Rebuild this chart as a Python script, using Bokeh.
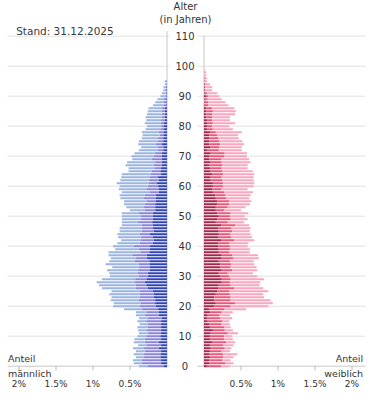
from bokeh.plotting import figure
from bokeh.models import ColumnDataSource, Range1d, Label
from bokeh.core.properties import value
from bokeh.embed import file_html
from bokeh.resources import INLINE

# ---------------- data (share of total population, %) ----------------
ages = list(range(100))

male_dark = [0.04,0.08,0.08,0.09,0.09,0.08,0.11,0.08,0.11,0.08,
             0.09,0.08,0.08,0.08,0.08,0.08,0.07,0.11,0.11,0.12,
             0.15,0.16,0.16,0.18,0.18,0.19,0.26,0.28,0.30,0.27,
             0.26,0.26,0.23,0.23,0.23,0.24,0.27,0.27,0.24,0.23,
             0.23,0.19,0.18,0.19,0.23,0.18,0.19,0.19,0.20,0.19,
             0.19,0.19,0.16,0.16,0.16,0.15,0.15,0.15,0.11,0.11,
             0.12,0.14,0.11,0.12,0.08,0.09,0.08,0.07,0.07,0.07,
             0.07,0.07,0.05,0.05,0.07,0.05,0.05,0.05,0.04,0.04,
             0.04,0.04,0.03,0.03,0.03,0.03,0.03,0.01,0.01,0.01,
             0.01,0.01,0.01,0.01,0,0,0,0,0,0]
male_mid = [0.22,0.26,0.26,0.22,0.22,0.22,0.20,0.20,0.19,0.22,
            0.19,0.18,0.19,0.18,0.18,0.20,0.19,0.19,0.16,0.22,
            0.22,0.20,0.22,0.19,0.19,0.18,0.16,0.14,0.14,0.16,
            0.12,0.14,0.16,0.15,0.15,0.20,0.15,0.20,0.12,0.15,
            0.22,0.18,0.18,0.16,0.14,0.16,0.15,0.15,0.19,0.16,
            0.16,0.19,0.14,0.15,0.14,0.12,0.16,0.15,0.12,0.16,
            0.14,0.11,0.14,0.11,0.14,0.12,0.09,0.11,0.09,0.14,
            0.11,0.09,0.07,0.07,0.08,0.07,0.07,0.05,0.07,0.05,
            0.04,0.04,0.05,0.04,0.04,0.04,0.04,0.03,0.04,0.03,
            0.01,0.01,0.01,0.01,0.01,0.01,0,0,0,0]
male_light = [0.12,0.11,0.12,0.11,0.14,0.12,0.15,0.11,0.15,0.14,
              0.12,0.12,0.12,0.14,0.11,0.12,0.12,0.12,0.15,0.24,
              0.36,0.36,0.38,0.38,0.41,0.38,0.46,0.50,0.51,0.45,
              0.39,0.38,0.42,0.36,0.45,0.34,0.34,0.32,0.43,0.32,
              0.28,0.30,0.26,0.31,0.30,0.30,0.30,0.27,0.22,0.26,
              0.26,0.23,0.20,0.24,0.28,0.31,0.32,0.34,0.38,0.38,
              0.38,0.43,0.38,0.39,0.39,0.31,0.35,0.38,0.38,0.26,
              0.30,0.28,0.26,0.23,0.24,0.26,0.22,0.23,0.23,0.20,
              0.19,0.22,0.20,0.22,0.20,0.19,0.18,0.15,0.11,0.09,
              0.07,0.05,0.03,0.03,0.02,0.02,0,0,0,0]

female_dark = [0.04,0.07,0.07,0.08,0.07,0.08,0.09,0.08,0.11,0.08,
               0.08,0.09,0.12,0.08,0.07,0.05,0.04,0.05,0.08,0.07,
               0.14,0.16,0.14,0.14,0.16,0.18,0.19,0.20,0.24,0.24,
               0.22,0.20,0.24,0.22,0.22,0.20,0.24,0.24,0.20,0.20,
               0.19,0.19,0.23,0.19,0.20,0.20,0.19,0.23,0.16,0.18,
               0.20,0.18,0.16,0.16,0.18,0.18,0.16,0.15,0.12,0.11,
               0.12,0.12,0.09,0.09,0.11,0.09,0.08,0.07,0.09,0.07,
               0.07,0.09,0.04,0.09,0.07,0.07,0.07,0.07,0.08,0.04,
               0.04,0.04,0.04,0.03,0.03,0.03,0.03,0.01,0.01,0.01,
               0.03,0.01,0.01,0.01,0.01,0,0,0,0,0]
female_mid = [0.19,0.22,0.18,0.18,0.19,0.15,0.19,0.18,0.19,0.19,
              0.19,0.23,0.16,0.19,0.16,0.20,0.18,0.16,0.16,0.20,
              0.22,0.26,0.22,0.22,0.19,0.16,0.22,0.16,0.11,0.12,
              0.12,0.12,0.14,0.14,0.15,0.15,0.16,0.14,0.14,0.15,
              0.16,0.15,0.18,0.18,0.16,0.18,0.18,0.19,0.16,0.18,
              0.15,0.18,0.11,0.16,0.16,0.16,0.14,0.14,0.15,0.12,
              0.14,0.14,0.16,0.15,0.15,0.16,0.16,0.18,0.15,0.16,
              0.20,0.19,0.16,0.12,0.15,0.14,0.12,0.11,0.08,0.08,
              0.07,0.08,0.07,0.08,0.08,0.09,0.08,0.05,0.05,0.04,
              0.03,0.03,0.01,0.01,0.01,0.01,0.01,0,0,0]
female_light = [0.12,0.11,0.11,0.14,0.19,0.12,0.09,0.14,0.12,0.12,
                0.11,0.14,0.11,0.09,0.12,0.09,0.16,0.14,0.15,0.30,
                0.51,0.51,0.54,0.45,0.45,0.53,0.39,0.39,0.41,0.45,
                0.38,0.34,0.34,0.35,0.31,0.32,0.34,0.35,0.28,0.27,
                0.24,0.26,0.27,0.28,0.27,0.24,0.26,0.19,0.22,0.23,
                0.20,0.24,0.23,0.24,0.28,0.30,0.31,0.34,0.39,0.36,
                0.41,0.42,0.42,0.43,0.42,0.41,0.35,0.34,0.39,0.38,
                0.31,0.30,0.31,0.30,0.32,0.31,0.28,0.28,0.35,0.27,
                0.23,0.30,0.24,0.24,0.31,0.31,0.30,0.27,0.23,0.19,
                0.15,0.14,0.09,0.09,0.06,0.03,0.03,0.03,0.03,0.01]

share_ticks = [0.5, 1.0, 1.5, 2.0]
share_labels = ["0.5%", "1%", "1.5%", "2%"]
age_ticks = list(range(0, 111, 10))

# ---------------- layout / style ----------------
GAP = 0.25          # half-width of the central age-label column (in % units)
FONT = "DejaVu Sans"
TXT = "#333333"
GRID = "#e3e3e3"
AXIS = "#c8c8c8"
M_COLS = ["#3144b6", "#8a84d8", "#9cb5e0"]
F_COLS = ["#a3284e", "#e8587c", "#f8a7be"]

p = figure(width=375, height=416, output_backend="svg", toolbar_location=None,
           x_range=Range1d(-2.5, 2.5676), y_range=Range1d(-16.77, 121.9),
           min_border_left=0, min_border_right=0, min_border_top=0,
           min_border_bottom=0, x_axis_location=None, y_axis_location=None)
p.outline_line_color = None
p.xgrid.visible = False
p.ygrid.visible = False
p.background_fill_color = "white"
p.border_fill_color = "white"

# gridlines (split around central label column)
xl0, xr1 = -2.405, 2.432
n = len(age_ticks)
cols = [AXIS if a == 0 else GRID for a in age_ticks]
p.segment(x0="x0", y0="y", x1="x1", y1="y", line_color="c", line_width=1,
          source=ColumnDataSource(dict(x0=[xl0] * n, x1=[-0.22] * n, y=age_ticks, c=cols)))
p.segment(x0="x0", y0="y", x1="x1", y1="y", line_color="c", line_width=1,
          source=ColumnDataSource(dict(x0=[0.16] * n, x1=[xr1] * n, y=age_ticks, c=cols)))
# vertical zero lines
p.segment(x0=[-GAP, GAP], y0=[0, 0], x1=[-GAP, GAP], y1=[111.7, 110.3],
          line_color=AXIS, line_width=1)

# stacked bars
def stack(segs):
    out, prev = [], [0.0] * len(ages)
    for s in segs:
        cur = [a + b for a, b in zip(prev, s)]
        out.append((prev, cur))
        prev = cur
    return out

for (lo, hi), c in zip(stack([male_dark, male_mid, male_light]), M_COLS):
    src = ColumnDataSource(dict(y=ages, left=[-GAP - h for h in hi], right=[-GAP - l for l in lo]))
    p.hbar(y="y", left="left", right="right", height=0.67, fill_color=c, line_color=None, source=src)
for (lo, hi), c in zip(stack([female_dark, female_mid, female_light]), F_COLS):
    src = ColumnDataSource(dict(y=ages, left=[GAP + l for l in lo], right=[GAP + h for h in hi]))
    p.hbar(y="y", left="left", right="right", height=0.67, fill_color=c, line_color=None, source=src)

# age labels in the middle
p.text(x=[-0.007] * n, y=age_ticks, text=[str(a) for a in age_ticks],
       text_align="center", text_baseline="middle", text_font=value(FONT),
       text_font_size="10px", text_color=TXT)

# share axis: mirrored ticks and labels
tick_x = [-(GAP + t) for t in share_ticks] + [GAP + t for t in share_ticks]
tick_txt = share_labels + share_labels
p.segment(x0=tick_x, x1=tick_x, y0=[0.1] * len(tick_x), y1=[-1.4] * len(tick_x),
          line_color="#bbbbbb", line_width=1)
p.text(x=tick_x, y=[-5.8] * len(tick_x), text=tick_txt, text_align="center",
       text_baseline="middle", text_font=value(FONT), text_font_size="9px", text_color=TXT)

def lab(x, y, t, align="left", size="10px", color=TXT):
    p.add_layout(Label(x=x, y=y, text=t, text_align=align, text_baseline="middle",
                       text_font=FONT, text_font_size=size, text_color=color))

lab(-2.288, 111.7, "Stand: 31.12.2025", size="10.5px", color="#3a3a3a")
lab(0.0, 119.8, "Alter", align="center")
lab(0.0, 115.7, "(in Jahren)", align="center")
lab(-2.40, 2.73, "Anteil", size="9.5px")
lab(-2.40, -2.27, "männlich", size="9.5px")
lab(2.40, 2.73, "Anteil", align="right", size="9.5px")
lab(2.40, -2.27, "weiblich", align="right", size="9.5px")

open("out.html", "w").write(file_html(p, INLINE))
